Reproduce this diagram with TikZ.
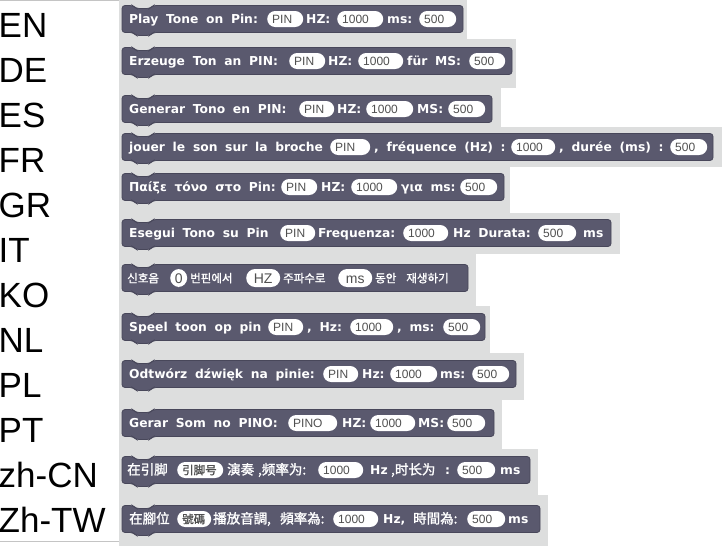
\documentclass[tikz,border=0pt]{standalone}
\usepackage{fontspec}
\newfontfamily\langfont{Liberation Sans}
\newfontfamily\blkfont[WordSpace=1.8]{DejaVu Sans}
\newfontfamily\slotfont{Liberation Sans}
\newfontfamily\scfont[FakeBold=1.5]{Noto Sans CJK SC}
\newfontfamily\tcfont[FakeBold=1.5]{Noto Sans CJK TC}
\newfontfamily\kofont[FakeBold=1.5]{Noto Sans CJK KR}
\definecolor{blockfill}{HTML}{5A596E}
\definecolor{blockline}{HTML}{48475A}
\definecolor{panelgray}{HTML}{DDDEDE}
\definecolor{slottext}{HTML}{505050}
\definecolor{rulegray}{HTML}{C4C4C4}

\begin{document}
\begin{tikzpicture}
  [x=1pt,y=-1pt,
   lang/.style={font=\langfont\fontsize{35}{40}\selectfont,anchor=base west,inner sep=0pt},
   block/.style={fill=blockfill,draw=blockline,line width=0.8pt,rounded corners=3pt},
   txt/.style={font=\blkfont\bfseries\fontsize{12.3}{15}\selectfont,text=white,
               inner sep=0pt,anchor=west,text height=8.9pt,text depth=0pt},
   sctxt/.style={txt,font=\scfont\fontsize{13.5}{16}\selectfont},
   tctxt/.style={txt,font=\tcfont\fontsize{13.5}{16}\selectfont},
   kotxt/.style={txt,font=\kofont\fontsize{11.5}{13}\selectfont},
   slot/.style={fill=white,rounded corners=8pt,text=slottext,
                font=\slotfont\fontsize{12}{14}\selectfont,inner xsep=5pt,inner ysep=0pt,
                minimum height=16pt,anchor=west,text height=8.6pt,text depth=0pt,
                text width=#1pt,align=left},
   koslot/.style={fill=white,rounded corners=9pt,text=slottext,
                  font=\slotfont\fontsize{14}{16}\selectfont,inner xsep=2pt,inner ysep=0pt,
                  minimum height=18pt,minimum width=#1pt,anchor=west,
                  text height=10pt,text depth=0pt}]

  \useasboundingbox (0,0) rectangle (722,546);

  % gray script area, one strip per row
  \foreach \yt/\yb/\xr in {0/39/467,39/88/516,88/127/501,127/167/722,167/213/510,
                           213/254/620,254/306/476,306/353/490,353/400/524,
                           400/449/502,449/495/538,495/546/548}
    \fill[panelgray] (119,\yt) rectangle (\xr,\yb);

  \draw[rulegray] (0,0.5) -- (119,0.5);
  \draw[rulegray] (0,541.5) -- (119,541.5);

  % language codes
  \foreach \lng [count=\i from 0] in {EN,DE,ES,FR,GR,IT,KO,NL,PL,PT,zh-CN,Zh-TW}
    \node[lang] (lang\i) at (-1.5,37+45*\i) {\lng};

  % block bodies with notch and tab
  \foreach \yc/\xr in {19/463,61/512,109/492,147/713,187/504,233/611,
                       278/468,327/485,374/516,423/494,470/530,519/540}
    \draw[block] (122,\yc) |- (133,\yc-13.5) -- (136,\yc-10.5) -- (150,\yc-10.5)
      -- (153,\yc-13.5) -| (\xr,\yc) |- (153,\yc+13.5) -- (150,\yc+16.5)
      -- (136,\yc+16.5) -- (133,\yc+13.5) -| (122,\yc) -- cycle;

  % EN
  \path (129,19) node[txt]     (en1) {Play Tone on Pin:}
        (267,19) node[slot=26] (en2) {PIN}
        (306,19) node[txt]     (en3) {HZ:}
        (337,19) node[slot=36] (en4) {1000}
        (387,19) node[txt]     (en5) {ms:}
        (419,19) node[slot=27] (en6) {500};
  % DE
  \path (129,61) node[txt]     (de1) {Erzeuge Ton an PIN:}
        (289,61) node[slot=26] (de2) {PIN}
        (328,61) node[txt]     (de3) {HZ:}
        (358,61) node[slot=35] (de4) {1000}
        (407,61) node[txt]     (de5) {für MS:}
        (469,61) node[slot=26] (de6) {500};
  % ES
  \path (129,109) node[txt]     (es1) {Generar Tono en PIN:}
        (299,109) node[slot=25] (es2) {PIN}
        (337,109) node[txt]     (es3) {HZ:}
        (366,109) node[slot=37] (es4) {1000}
        (417,109) node[txt]     (es5) {MS:}
        (448,109) node[slot=27] (es6) {500};
  % FR
  \path (129,147) node[txt]     (fr1) {jouer le son sur la broche}
        (330,147) node[slot=30] (fr2) {PIN}
        (374,147) node[txt]     (fr3) {, fréquence (Hz) :}
        (511,147) node[slot=34] (fr4) {1000}
        (559,147) node[txt]     (fr5) {, durée (ms) :}
        (670,147) node[slot=27] (fr6) {500};
  % GR
  \path (129,187) node[txt]     (gr1) {Παίξε τόνο στο Pin:}
        (281,187) node[slot=26] (gr2) {PIN}
        (321,187) node[txt]     (gr3) {HZ:}
        (351,187) node[slot=36] (gr4) {1000}
        (401,187) node[txt]     (gr5) {για ms:}
        (460,187) node[slot=27] (gr6) {500};
  % IT
  \path (129,233) node[txt]     (it1) {Esegui Tono su Pin}
        (280,233) node[slot=25] (it2) {PIN}
        (318,233) node[txt]     (it3) {Frequenza:}
        (403,233) node[slot=35] (it4) {1000}
        (453,233) node[txt]     (it5) {Hz Durata:}
        (538,233) node[slot=28] (it6) {500}
        (583,233) node[txt]     (it7) {ms};
  % KO
  \path (127,278) node[kotxt]     (ko1) {신호음}
        (170,278) node[koslot=17] (ko2) {0}
        (190,278) node[kotxt]     (ko3) {번핀에서}
        (246,278) node[koslot=34] (ko4) {HZ}
        (283,278) node[kotxt]     (ko5) {주파수로}
        (338,278) node[koslot=34] (ko6) {ms}
        (375,278) node[kotxt]     (ko7) {동안\hspace{10pt}재생하기};
  % NL
  \path (129,327) node[txt]     (nl1) {Speel toon op pin}
        (268,327) node[slot=25] (nl2) {PIN}
        (307,327) node[txt]     (nl3) {, Hz:}
        (350,327) node[slot=33] (nl4) {1000}
        (397,327) node[txt]     (nl5) {, ms:}
        (443,327) node[slot=27] (nl6) {500};
  % PL
  \path (129,374) node[txt]     (pl1) {Odtwórz dźwięk na pinie:}
        (323,374) node[slot=25] (pl2) {PIN}
        (362,374) node[txt]     (pl3) {Hz:}
        (390,374) node[slot=37] (pl4) {1000}
        (440,374) node[txt]     (pl5) {ms:}
        (472,374) node[slot=27] (pl6) {500};
  % PT
  \path (129,423) node[txt]     (pt1) {Gerar Som no PINO:}
        (288,423) node[slot=39] (pt2) {PINO}
        (342,423) node[txt]     (pt3) {HZ:}
        (370,423) node[slot=35] (pt4) {1000}
        (418,423) node[txt]     (pt5) {MS:}
        (447,423) node[slot=28] (pt6) {500};
  % zh-CN
  \path (127,470) node[sctxt]   (cn1) {在引脚}
        (177,470) node[slot=36,font=\scfont\fontsize{11.5}{13}\selectfont] (cn2) {引脚号}
        (227,470) node[sctxt]   (cn3) {演奏\hspace{4pt},频率为:}
        (318,470) node[slot=35] (cn4) {1000}
        (370,470) node[txt]     (cn5) {Hz}
        (391,470) node[sctxt]   (cn6) {,时长为}
        (445,470) node[txt]     (cn7) {:}
        (457,470) node[slot=28] (cn8) {500}
        (500,470) node[txt]     (cn9) {ms};
  % zh-TW
  \path (129,519) node[tctxt]   (tw1) {在腳位}
        (177,519) node[slot=24,font=\tcfont\fontsize{11.5}{13}\selectfont] (tw2) {號碼}
        (213,519) node[tctxt]   (tw3) {播放音調,}
        (280,519) node[tctxt]   (tw4) {頻率為:}
        (333,519) node[slot=35] (tw5) {1000}
        (383,519) node[txt]     (tw6) {Hz,}
        (413,519) node[tctxt]   (tw7) {時間為:}
        (467,519) node[slot=28] (tw8) {500}
        (508,519) node[txt]     (tw9) {ms};

\end{tikzpicture}
\end{document}
